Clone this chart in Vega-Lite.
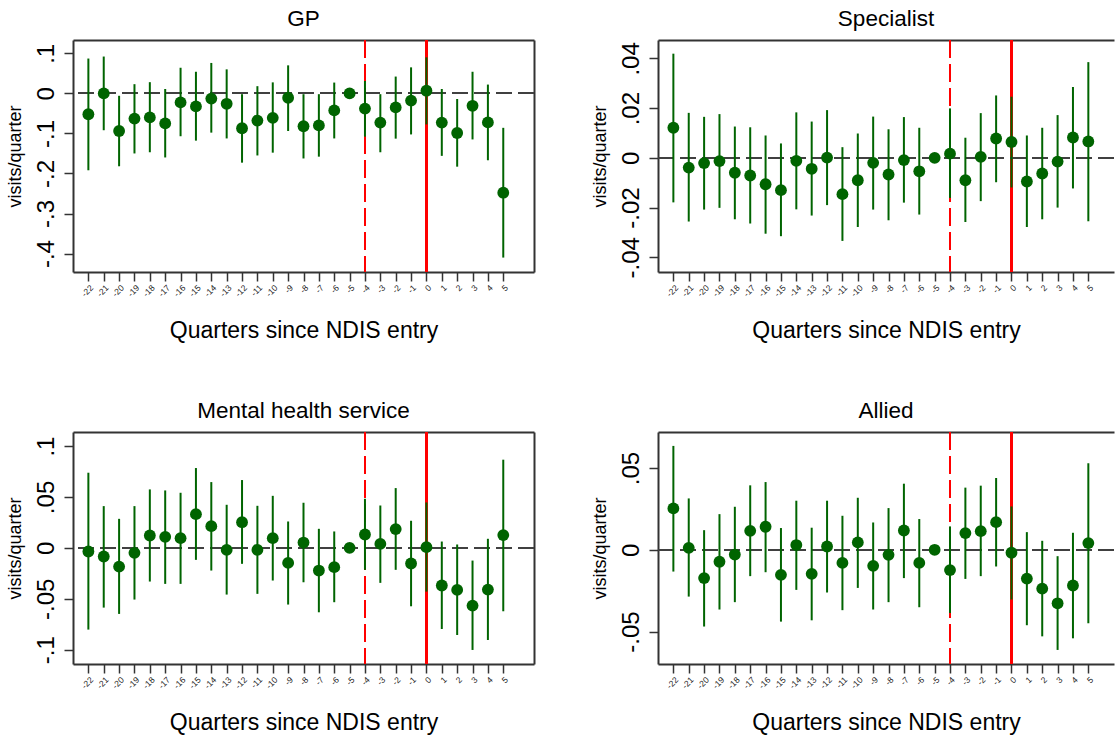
{
  "$schema": "https://vega.github.io/schema/vega-lite/v6.json",
  "padding": {"left": 6, "top": 7, "right": 0, "bottom": 0},
  "columns": 2,
  "align": "each",
  "spacing": {"row": 56, "column": 56},
  "config": {
    "font": "Liberation Sans",
    "view": {"stroke": null},
    "axis": {"grid": false, "domainColor": "#333333", "domainWidth": 2, "tickColor": "#333333", "tickWidth": 1.5, "labelColor": "#000000", "titleColor": "#000000", "titleFontWeight": "normal"},
    "axisLeft": {"labelAngle": -90, "labelAlign": "center", "labelBaseline": "bottom", "labelFontSize": 24, "labelPadding": 6, "tickSize": 9, "titleFontSize": 18, "titlePadding": 10},
    "axisBottom": {"labelAngle": -45, "labelFontSize": 8.5, "labelColor": "#222222", "labelPadding": 2, "tickSize": 9, "titleFontSize": 23, "titlePadding": 22},
    "title": {"fontSize": 22.5, "fontWeight": "normal", "color": "#000000", "offset": 9}
  },
  "data": {"values": [
    {"p": "GP", "q": -22, "b": -0.052, "lo": -0.192, "hi": 0.087},
    {"p": "GP", "q": -21, "b": 0.0, "lo": -0.092, "hi": 0.092},
    {"p": "GP", "q": -20, "b": -0.094, "lo": -0.182, "hi": -0.006},
    {"p": "GP", "q": -19, "b": -0.063, "lo": -0.150, "hi": 0.023},
    {"p": "GP", "q": -18, "b": -0.060, "lo": -0.147, "hi": 0.028},
    {"p": "GP", "q": -17, "b": -0.075, "lo": -0.160, "hi": 0.011},
    {"p": "GP", "q": -16, "b": -0.0225, "lo": -0.107, "hi": 0.064},
    {"p": "GP", "q": -15, "b": -0.0325, "lo": -0.118, "hi": 0.054},
    {"p": "GP", "q": -14, "b": -0.013, "lo": -0.098, "hi": 0.076},
    {"p": "GP", "q": -13, "b": -0.026, "lo": -0.1125, "hi": 0.060},
    {"p": "GP", "q": -12, "b": -0.087, "lo": -0.173, "hi": -0.002},
    {"p": "GP", "q": -11, "b": -0.068, "lo": -0.155, "hi": 0.018},
    {"p": "GP", "q": -10, "b": -0.061, "lo": -0.148, "hi": 0.0275},
    {"p": "GP", "q": -9, "b": -0.011, "lo": -0.094, "hi": 0.070},
    {"p": "GP", "q": -8, "b": -0.082, "lo": -0.1625, "hi": -0.002},
    {"p": "GP", "q": -7, "b": -0.080, "lo": -0.158, "hi": -0.002},
    {"p": "GP", "q": -6, "b": -0.0425, "lo": -0.1125, "hi": 0.027},
    {"p": "GP", "q": -5, "b": 0.0},
    {"p": "GP", "q": -4, "b": -0.038, "lo": -0.108, "hi": 0.031},
    {"p": "GP", "q": -3, "b": -0.073, "lo": -0.147, "hi": -0.002},
    {"p": "GP", "q": -2, "b": -0.035, "lo": -0.113, "hi": 0.042},
    {"p": "GP", "q": -1, "b": -0.018, "lo": -0.1025, "hi": 0.065},
    {"p": "GP", "q": 0, "b": 0.0067, "lo": -0.0775, "hi": 0.090},
    {"p": "GP", "q": 1, "b": -0.073, "lo": -0.156, "hi": 0.011},
    {"p": "GP", "q": 2, "b": -0.099, "lo": -0.183, "hi": -0.014},
    {"p": "GP", "q": 3, "b": -0.031, "lo": -0.115, "hi": 0.054},
    {"p": "GP", "q": 4, "b": -0.0725, "lo": -0.167, "hi": 0.022},
    {"p": "GP", "q": 5, "b": -0.248, "lo": -0.410, "hi": -0.086},

    {"p": "Specialist", "q": -22, "b": 0.0121, "lo": -0.0179, "hi": 0.0419},
    {"p": "Specialist", "q": -21, "b": -0.0039, "lo": -0.0256, "hi": 0.0181},
    {"p": "Specialist", "q": -20, "b": -0.0021, "lo": -0.0208, "hi": 0.0165},
    {"p": "Specialist", "q": -19, "b": -0.0013, "lo": -0.0201, "hi": 0.0176},
    {"p": "Specialist", "q": -18, "b": -0.0060, "lo": -0.0247, "hi": 0.0126},
    {"p": "Specialist", "q": -17, "b": -0.0071, "lo": -0.0264, "hi": 0.0123},
    {"p": "Specialist", "q": -16, "b": -0.0106, "lo": -0.0305, "hi": 0.0090},
    {"p": "Specialist", "q": -15, "b": -0.0130, "lo": -0.0315, "hi": 0.0058},
    {"p": "Specialist", "q": -14, "b": -0.0012, "lo": -0.0207, "hi": 0.0183},
    {"p": "Specialist", "q": -13, "b": -0.0044, "lo": -0.0232, "hi": 0.0146},
    {"p": "Specialist", "q": -12, "b": 0.0001, "lo": -0.0190, "hi": 0.0192},
    {"p": "Specialist", "q": -11, "b": -0.0146, "lo": -0.0334, "hi": 0.0043},
    {"p": "Specialist", "q": -10, "b": -0.0090, "lo": -0.0278, "hi": 0.0098},
    {"p": "Specialist", "q": -9, "b": -0.0020, "lo": -0.0208, "hi": 0.0166},
    {"p": "Specialist", "q": -8, "b": -0.0067, "lo": -0.0251, "hi": 0.0115},
    {"p": "Specialist", "q": -7, "b": -0.0009, "lo": -0.0180, "hi": 0.0164},
    {"p": "Specialist", "q": -6, "b": -0.0054, "lo": -0.0228, "hi": 0.0121},
    {"p": "Specialist", "q": -5, "b": 0.0},
    {"p": "Specialist", "q": -4, "b": 0.0017, "lo": -0.0161, "hi": 0.0199},
    {"p": "Specialist", "q": -3, "b": -0.0090, "lo": -0.0258, "hi": 0.0081},
    {"p": "Specialist", "q": -2, "b": 0.0004, "lo": -0.0174, "hi": 0.0180},
    {"p": "Specialist", "q": -1, "b": 0.0078, "lo": -0.0098, "hi": 0.0251},
    {"p": "Specialist", "q": 0, "b": 0.0064, "lo": -0.0119, "hi": 0.0246},
    {"p": "Specialist", "q": 1, "b": -0.0095, "lo": -0.0278, "hi": 0.0090},
    {"p": "Specialist", "q": 2, "b": -0.0063, "lo": -0.0247, "hi": 0.0121},
    {"p": "Specialist", "q": 3, "b": -0.0015, "lo": -0.0200, "hi": 0.0172},
    {"p": "Specialist", "q": 4, "b": 0.0082, "lo": -0.0123, "hi": 0.0285},
    {"p": "Specialist", "q": 5, "b": 0.0066, "lo": -0.0255, "hi": 0.0385},

    {"p": "Mental health service", "q": -22, "b": -0.0036, "lo": -0.0803, "hi": 0.0738},
    {"p": "Mental health service", "q": -21, "b": -0.0085, "lo": -0.0587, "hi": 0.0410},
    {"p": "Mental health service", "q": -20, "b": -0.0184, "lo": -0.0649, "hi": 0.0285},
    {"p": "Mental health service", "q": -19, "b": -0.0049, "lo": -0.0508, "hi": 0.0410},
    {"p": "Mental health service", "q": -18, "b": 0.0121, "lo": -0.0331, "hi": 0.0574},
    {"p": "Mental health service", "q": -17, "b": 0.0108, "lo": -0.0354, "hi": 0.0564},
    {"p": "Mental health service", "q": -16, "b": 0.0095, "lo": -0.0354, "hi": 0.0541},
    {"p": "Mental health service", "q": -15, "b": 0.0331, "lo": -0.0118, "hi": 0.0784},
    {"p": "Mental health service", "q": -14, "b": 0.0213, "lo": -0.0223, "hi": 0.0646},
    {"p": "Mental health service", "q": -13, "b": -0.0020, "lo": -0.0459, "hi": 0.0423},
    {"p": "Mental health service", "q": -12, "b": 0.0252, "lo": -0.0157, "hi": 0.0666},
    {"p": "Mental health service", "q": -11, "b": -0.0020, "lo": -0.0452, "hi": 0.0413},
    {"p": "Mental health service", "q": -10, "b": 0.0095, "lo": -0.0321, "hi": 0.0511},
    {"p": "Mental health service", "q": -9, "b": -0.0148, "lo": -0.0557, "hi": 0.0259},
    {"p": "Mental health service", "q": -8, "b": 0.0052, "lo": -0.0338, "hi": 0.0443},
    {"p": "Mental health service", "q": -7, "b": -0.0223, "lo": -0.0633, "hi": 0.0187},
    {"p": "Mental health service", "q": -6, "b": -0.0190, "lo": -0.0534, "hi": 0.0161},
    {"p": "Mental health service", "q": -5, "b": 0.0},
    {"p": "Mental health service", "q": -4, "b": 0.0131, "lo": -0.0216, "hi": 0.0482},
    {"p": "Mental health service", "q": -3, "b": 0.0039, "lo": -0.0344, "hi": 0.0416},
    {"p": "Mental health service", "q": -2, "b": 0.0184, "lo": -0.0216, "hi": 0.0587},
    {"p": "Mental health service", "q": -1, "b": -0.0154, "lo": -0.0574, "hi": 0.0266},
    {"p": "Mental health service", "q": 0, "b": 0.0007, "lo": -0.0430, "hi": 0.0446},
    {"p": "Mental health service", "q": 1, "b": -0.0370, "lo": -0.0797, "hi": 0.0062},
    {"p": "Mental health service", "q": 2, "b": -0.0413, "lo": -0.0856, "hi": 0.0033},
    {"p": "Mental health service", "q": 3, "b": -0.0567, "lo": -0.1003, "hi": -0.0125},
    {"p": "Mental health service", "q": 4, "b": -0.0410, "lo": -0.0905, "hi": 0.0089},
    {"p": "Mental health service", "q": 5, "b": 0.0125, "lo": -0.0623, "hi": 0.0866},

    {"p": "Allied", "q": -22, "b": 0.0253, "lo": -0.0133, "hi": 0.0635},
    {"p": "Allied", "q": -21, "b": 0.0012, "lo": -0.0286, "hi": 0.0314},
    {"p": "Allied", "q": -20, "b": -0.0173, "lo": -0.0469, "hi": 0.0120},
    {"p": "Allied", "q": -19, "b": -0.0073, "lo": -0.0365, "hi": 0.0218},
    {"p": "Allied", "q": -18, "b": -0.0029, "lo": -0.0320, "hi": 0.0263},
    {"p": "Allied", "q": -17, "b": 0.0116, "lo": -0.0161, "hi": 0.0394},
    {"p": "Allied", "q": -16, "b": 0.0141, "lo": -0.0137, "hi": 0.0414},
    {"p": "Allied", "q": -15, "b": -0.0153, "lo": -0.0439, "hi": 0.0133},
    {"p": "Allied", "q": -14, "b": 0.0029, "lo": -0.0245, "hi": 0.0300},
    {"p": "Allied", "q": -13, "b": -0.0147, "lo": -0.0431, "hi": 0.0135},
    {"p": "Allied", "q": -12, "b": 0.0020, "lo": -0.0261, "hi": 0.0300},
    {"p": "Allied", "q": -11, "b": -0.0080, "lo": -0.0369, "hi": 0.0208},
    {"p": "Allied", "q": -10, "b": 0.0045, "lo": -0.0233, "hi": 0.0318},
    {"p": "Allied", "q": -9, "b": -0.0098, "lo": -0.0365, "hi": 0.0167},
    {"p": "Allied", "q": -8, "b": -0.0031, "lo": -0.0320, "hi": 0.0255},
    {"p": "Allied", "q": -7, "b": 0.0118, "lo": -0.0173, "hi": 0.0404},
    {"p": "Allied", "q": -6, "b": -0.0080, "lo": -0.0351, "hi": 0.0188},
    {"p": "Allied", "q": -5, "b": 0.0},
    {"p": "Allied", "q": -4, "b": -0.0124, "lo": -0.0386, "hi": 0.0143},
    {"p": "Allied", "q": -3, "b": 0.0102, "lo": -0.0178, "hi": 0.0380},
    {"p": "Allied", "q": -2, "b": 0.0114, "lo": -0.0161, "hi": 0.0392},
    {"p": "Allied", "q": -1, "b": 0.0169, "lo": -0.0102, "hi": 0.0439},
    {"p": "Allied", "q": 0, "b": -0.0018, "lo": -0.0304, "hi": 0.0265},
    {"p": "Allied", "q": 1, "b": -0.0176, "lo": -0.0461, "hi": 0.0108},
    {"p": "Allied", "q": 2, "b": -0.0237, "lo": -0.0529, "hi": 0.0055},
    {"p": "Allied", "q": 3, "b": -0.0327, "lo": -0.0612, "hi": -0.0039},
    {"p": "Allied", "q": 4, "b": -0.0218, "lo": -0.0541, "hi": 0.0104},
    {"p": "Allied", "q": 5, "b": 0.0041, "lo": -0.0449, "hi": 0.0529}
  ]},
  "concat": [
    {
      "title": "GP",
      "width": 461, "height": 232,
      "transform": [{"filter": "datum.p == 'GP'"}],
      "layer": [
        {"mark": {"type": "rule", "color": "#ff0000", "strokeWidth": 1.3, "strokeDash": [18, 6]}, "encoding": {"x": {"datum": -4, "type": "quantitative", "scale": {"domain": [-23, 7], "nice": false, "zero": false}, "axis": null}}},
        {"mark": {"type": "rule", "color": "#ff0000", "strokeWidth": 2}, "encoding": {"x": {"datum": 0, "type": "quantitative", "scale": {"domain": [-23, 7], "nice": false, "zero": false}, "axis": null}}},
        {"mark": {"type": "rule", "color": "#404040", "strokeWidth": 1.3, "strokeDash": [16, 6]}, "encoding": {"y": {"datum": 0, "type": "quantitative", "scale": {"domain": [-0.446, 0.1333], "nice": false, "zero": false}, "axis": null}}},
        {"transform": [{"filter": "isValid(datum.lo)"}], "mark": {"type": "rule", "color": "#006400", "strokeWidth": 2},
         "encoding": {
           "x": {"field": "q", "type": "quantitative", "scale": {"domain": [-23, 7], "nice": false, "zero": false}, "axis": {"orient": "top", "labels": false, "ticks": false, "title": null}},
           "y": {"field": "lo", "type": "quantitative", "scale": {"domain": [-0.446, 0.1333], "nice": false, "zero": false}, "axis": {"orient": "right", "labels": false, "ticks": false, "title": null}},
           "y2": {"field": "hi"}}},
        {"mark": {"type": "circle", "size": 140, "color": "#006400", "opacity": 1},
         "encoding": {
           "x": {"field": "q", "type": "quantitative", "scale": {"domain": [-23, 7], "nice": false, "zero": false}, "axis": {"orient": "bottom", "values": [-22,-21,-20,-19,-18,-17,-16,-15,-14,-13,-12,-11,-10,-9,-8,-7,-6,-5,-4,-3,-2,-1,0,1,2,3,4,5], "labelExpr": "'' + datum.value", "title": "Quarters since NDIS entry"}},
           "y": {"field": "b", "type": "quantitative", "scale": {"domain": [-0.446, 0.1333], "nice": false, "zero": false}, "axis": {"orient": "left", "values": [0.1, 0, -0.1, -0.2, -0.3, -0.4], "labelExpr": "replace('' + datum.value, '0.', '.')", "title": "visits/quarter"}}}}
      ],
      "resolve": {"axis": {"x": "independent", "y": "independent"}}
    },
    {
      "title": "Specialist",
      "width": 456, "height": 232,
      "transform": [{"filter": "datum.p == 'Specialist'"}],
      "layer": [
        {"mark": {"type": "rule", "color": "#ff0000", "strokeWidth": 1.3, "strokeDash": [18, 6]}, "encoding": {"x": {"datum": -4, "type": "quantitative", "scale": {"domain": [-23, 6.67], "nice": false, "zero": false}, "axis": null}}},
        {"mark": {"type": "rule", "color": "#ff0000", "strokeWidth": 2}, "encoding": {"x": {"datum": 0, "type": "quantitative", "scale": {"domain": [-23, 6.67], "nice": false, "zero": false}, "axis": null}}},
        {"mark": {"type": "rule", "color": "#404040", "strokeWidth": 1.3, "strokeDash": [16, 6]}, "encoding": {"y": {"datum": 0, "type": "quantitative", "scale": {"domain": [-0.0459, 0.0474], "nice": false, "zero": false}, "axis": {"orient": "right", "labels": false, "ticks": false, "domain": false, "title": null}}}},
        {"transform": [{"filter": "isValid(datum.lo)"}], "mark": {"type": "rule", "color": "#006400", "strokeWidth": 2},
         "encoding": {
           "x": {"field": "q", "type": "quantitative", "scale": {"domain": [-23, 6.67], "nice": false, "zero": false}, "axis": {"orient": "top", "labels": false, "ticks": false, "title": null}},
           "y": {"field": "lo", "type": "quantitative", "scale": {"domain": [-0.0459, 0.0474], "nice": false, "zero": false}, "axis": {"orient": "right", "labels": false, "ticks": false, "domain": false, "title": null}},
           "y2": {"field": "hi"}}},
        {"mark": {"type": "circle", "size": 140, "color": "#006400", "opacity": 1},
         "encoding": {
           "x": {"field": "q", "type": "quantitative", "scale": {"domain": [-23, 6.67], "nice": false, "zero": false}, "axis": {"orient": "bottom", "values": [-22,-21,-20,-19,-18,-17,-16,-15,-14,-13,-12,-11,-10,-9,-8,-7,-6,-5,-4,-3,-2,-1,0,1,2,3,4,5], "labelExpr": "'' + datum.value", "title": "Quarters since NDIS entry"}},
           "y": {"field": "b", "type": "quantitative", "scale": {"domain": [-0.0459, 0.0474], "nice": false, "zero": false}, "axis": {"orient": "left", "values": [0.04, 0.02, 0, -0.02, -0.04], "labelExpr": "replace('' + datum.value, '0.', '.')", "title": "visits/quarter"}}}}
      ],
      "resolve": {"axis": {"x": "independent", "y": "independent"}}
    },
    {
      "title": "Mental health service",
      "width": 461, "height": 232,
      "transform": [{"filter": "datum.p == 'Mental health service'"}],
      "layer": [
        {"mark": {"type": "rule", "color": "#ff0000", "strokeWidth": 1.3, "strokeDash": [18, 6]}, "encoding": {"x": {"datum": -4, "type": "quantitative", "scale": {"domain": [-23, 7], "nice": false, "zero": false}, "axis": null}}},
        {"mark": {"type": "rule", "color": "#ff0000", "strokeWidth": 2}, "encoding": {"x": {"datum": 0, "type": "quantitative", "scale": {"domain": [-23, 7], "nice": false, "zero": false}, "axis": null}}},
        {"mark": {"type": "rule", "color": "#404040", "strokeWidth": 1.3, "strokeDash": [16, 6]}, "encoding": {"y": {"datum": 0, "type": "quantitative", "scale": {"domain": [-0.1141, 0.1138], "nice": false, "zero": false}, "axis": null}}},
        {"transform": [{"filter": "isValid(datum.lo)"}], "mark": {"type": "rule", "color": "#006400", "strokeWidth": 2},
         "encoding": {
           "x": {"field": "q", "type": "quantitative", "scale": {"domain": [-23, 7], "nice": false, "zero": false}, "axis": {"orient": "top", "labels": false, "ticks": false, "title": null}},
           "y": {"field": "lo", "type": "quantitative", "scale": {"domain": [-0.1141, 0.1138], "nice": false, "zero": false}, "axis": {"orient": "right", "labels": false, "ticks": false, "title": null}},
           "y2": {"field": "hi"}}},
        {"mark": {"type": "circle", "size": 140, "color": "#006400", "opacity": 1},
         "encoding": {
           "x": {"field": "q", "type": "quantitative", "scale": {"domain": [-23, 7], "nice": false, "zero": false}, "axis": {"orient": "bottom", "values": [-22,-21,-20,-19,-18,-17,-16,-15,-14,-13,-12,-11,-10,-9,-8,-7,-6,-5,-4,-3,-2,-1,0,1,2,3,4,5], "labelExpr": "'' + datum.value", "title": "Quarters since NDIS entry"}},
           "y": {"field": "b", "type": "quantitative", "scale": {"domain": [-0.1141, 0.1138], "nice": false, "zero": false}, "axis": {"orient": "left", "values": [0.1, 0.05, 0, -0.05, -0.1], "labelExpr": "replace('' + datum.value, '0.', '.')", "title": "visits/quarter"}}}}
      ],
      "resolve": {"axis": {"x": "independent", "y": "independent"}}
    },
    {
      "title": "Allied",
      "width": 456, "height": 232,
      "transform": [{"filter": "datum.p == 'Allied'"}],
      "layer": [
        {"mark": {"type": "rule", "color": "#ff0000", "strokeWidth": 1.3, "strokeDash": [18, 6]}, "encoding": {"x": {"datum": -4, "type": "quantitative", "scale": {"domain": [-23, 6.67], "nice": false, "zero": false}, "axis": null}}},
        {"mark": {"type": "rule", "color": "#ff0000", "strokeWidth": 2}, "encoding": {"x": {"datum": 0, "type": "quantitative", "scale": {"domain": [-23, 6.67], "nice": false, "zero": false}, "axis": null}}},
        {"mark": {"type": "rule", "color": "#404040", "strokeWidth": 1.3, "strokeDash": [16, 6]}, "encoding": {"y": {"datum": 0, "type": "quantitative", "scale": {"domain": [-0.0698, 0.072], "nice": false, "zero": false}, "axis": {"orient": "right", "labels": false, "ticks": false, "domain": false, "title": null}}}},
        {"transform": [{"filter": "isValid(datum.lo)"}], "mark": {"type": "rule", "color": "#006400", "strokeWidth": 2},
         "encoding": {
           "x": {"field": "q", "type": "quantitative", "scale": {"domain": [-23, 6.67], "nice": false, "zero": false}, "axis": {"orient": "top", "labels": false, "ticks": false, "title": null}},
           "y": {"field": "lo", "type": "quantitative", "scale": {"domain": [-0.0698, 0.072], "nice": false, "zero": false}, "axis": {"orient": "right", "labels": false, "ticks": false, "domain": false, "title": null}},
           "y2": {"field": "hi"}}},
        {"mark": {"type": "circle", "size": 140, "color": "#006400", "opacity": 1},
         "encoding": {
           "x": {"field": "q", "type": "quantitative", "scale": {"domain": [-23, 6.67], "nice": false, "zero": false}, "axis": {"orient": "bottom", "values": [-22,-21,-20,-19,-18,-17,-16,-15,-14,-13,-12,-11,-10,-9,-8,-7,-6,-5,-4,-3,-2,-1,0,1,2,3,4,5], "labelExpr": "'' + datum.value", "title": "Quarters since NDIS entry"}},
           "y": {"field": "b", "type": "quantitative", "scale": {"domain": [-0.0698, 0.072], "nice": false, "zero": false}, "axis": {"orient": "left", "values": [0.05, 0, -0.05], "labelExpr": "replace('' + datum.value, '0.', '.')", "title": "visits/quarter"}}}}
      ],
      "resolve": {"axis": {"x": "independent", "y": "independent"}}
    }
  ]
}
